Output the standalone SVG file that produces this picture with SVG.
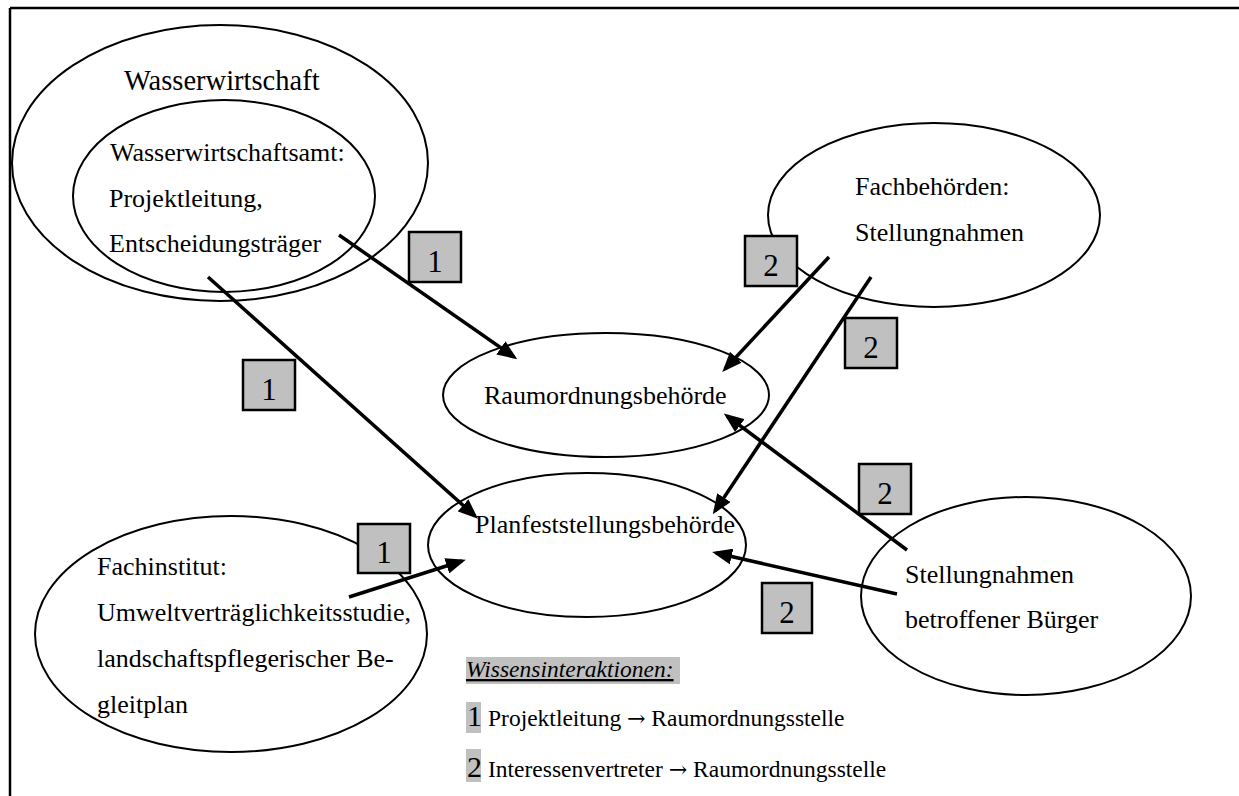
<svg xmlns="http://www.w3.org/2000/svg" width="1239" height="796" viewBox="0 0 1239 796">
  <style>
    .node { fill: #ffffff; stroke: #000000; stroke-width: 2; }
    .label { font-family: "Liberation Serif", "Times New Roman", serif; font-size: 26px; fill: #000000; }
    .badge rect { fill: #c0c0c0; stroke: #000000; stroke-width: 2.5; }
    .badge text { font-family: "Liberation Serif", "Times New Roman", serif; font-size: 31px; fill: #000000; text-anchor: middle; }
    .link { stroke: #000000; stroke-width: 3.5; fill: none; marker-end: url(#arrow); }
    .legend { font-family: "Liberation Serif", "Times New Roman", serif; font-size: 23.5px; fill: #000000; }
    .legend-num { font-family: "Liberation Serif", "Times New Roman", serif; font-size: 30px; fill: #000000; }
    .arr { font-family: "DejaVu Serif", serif; font-size: 22px; }
    .hl { fill: #c0c0c0; }
  </style>
  <defs>
    <marker id="arrow" viewBox="0 0 20 16" refX="16" refY="8" markerWidth="20" markerHeight="16" markerUnits="userSpaceOnUse" orient="auto">
      <path d="M0,0 L20,8 L0,16 z" fill="#000000"/>
    </marker>
  </defs>

  <rect width="1239" height="796" fill="#ffffff"/>

  <!-- page frame (top and left rule) -->
  <g id="frame" stroke="#000000" stroke-width="2.5" fill="none">
    <line x1="10" y1="8" x2="1239" y2="8"/>
    <line x1="10" y1="8" x2="10" y2="796"/>
  </g>

  <!-- Wasserwirtschaft with nested Wasserwirtschaftsamt -->
  <g id="wasserwirtschaft">
    <ellipse class="node" cx="220" cy="163" rx="208" ry="138"/>
    <text class="label" x="124" y="90" style="font-size:28.5px">Wasserwirtschaft</text>
  </g>
  <g id="wasserwirtschaftsamt">
    <ellipse class="node" cx="224" cy="196" rx="151" ry="96"/>
    <text class="label" x="110" y="161">Wasserwirtschaftsamt:</text>
    <text class="label" x="109" y="207">Projektleitung,</text>
    <text class="label" x="109" y="252">Entscheidungsträger</text>
  </g>

  <g id="fachbehoerden">
    <ellipse class="node" cx="934" cy="215" rx="166" ry="92"/>
    <text class="label" x="855" y="195">Fachbehörden:</text>
    <text class="label" x="855" y="241">Stellungnahmen</text>
  </g>

  <g id="raumordnungsbehoerde">
    <ellipse class="node" cx="606" cy="395" rx="163" ry="62"/>
    <text class="label" x="484" y="404">Raumordnungsbehörde</text>
  </g>

  <g id="planfeststellungsbehoerde">
    <ellipse class="node" cx="587" cy="545" rx="159" ry="72"/>
    <text class="label" x="475" y="533">Planfeststellungsbehörde</text>
  </g>

  <g id="fachinstitut">
    <ellipse class="node" cx="231" cy="634" rx="196" ry="118"/>
    <text class="label" x="97" y="575">Fachinstitut:</text>
    <text class="label" x="97" y="621">Umweltverträglichkeitsstudie,</text>
    <text class="label" x="97" y="667">landschaftspflegerischer Be-</text>
    <text class="label" x="97" y="713">gleitplan</text>
  </g>

  <g id="buerger">
    <ellipse class="node" cx="1026" cy="596" rx="165" ry="99"/>
    <text class="label" x="905" y="583">Stellungnahmen</text>
    <text class="label" x="905" y="628">betroffener Bürger</text>
  </g>

  <!-- knowledge interactions -->
  <g id="connectors">
    <line class="link" x1="339" y1="235" x2="514" y2="357"/>
    <line class="link" x1="208" y1="277" x2="475" y2="516"/>
    <line class="link" x1="349" y1="597" x2="462" y2="561"/>
    <line class="link" x1="829" y1="257" x2="725" y2="369"/>
    <line class="link" x1="871" y1="277" x2="715" y2="511"/>
    <line class="link" x1="907" y1="550" x2="727" y2="416"/>
    <line class="link" x1="897" y1="594" x2="716" y2="553"/>
  </g>

  <!-- interaction type badges -->
  <g id="badges">
    <g class="badge"><rect x="409" y="232" width="52" height="50"/><text x="435" y="272">1</text></g>
    <g class="badge"><rect x="243" y="360" width="52" height="50"/><text x="269" y="400">1</text></g>
    <g class="badge"><rect x="358" y="524" width="52" height="49"/><text x="384" y="563">1</text></g>
    <g class="badge"><rect x="745" y="236" width="52" height="50"/><text x="771" y="276">2</text></g>
    <g class="badge"><rect x="845" y="318" width="52" height="50"/><text x="871" y="358">2</text></g>
    <g class="badge"><rect x="859" y="464" width="52" height="50"/><text x="885" y="504">2</text></g>
    <g class="badge"><rect x="762" y="583" width="50" height="50"/><text x="787" y="623">2</text></g>
  </g>

  <!-- legend -->
  <g id="legend">
    <rect class="hl" x="466" y="657" width="214" height="27"/>
    <text class="legend" x="466" y="677" font-style="italic" text-decoration="underline">Wissensinteraktionen:</text>
    <rect class="hl" x="466" y="702" width="15" height="31"/>
    <text class="legend-num" x="467" y="726">1</text>
    <text class="legend" x="488" y="726">Projektleitung <tspan class="arr">→</tspan> Raumordnungsstelle</text>
    <rect class="hl" x="466" y="749" width="15" height="33"/>
    <text class="legend-num" x="467" y="777">2</text>
    <text class="legend" x="488" y="777">Interessenvertreter <tspan class="arr">→</tspan> Raumordnungsstelle</text>
  </g>
</svg>
